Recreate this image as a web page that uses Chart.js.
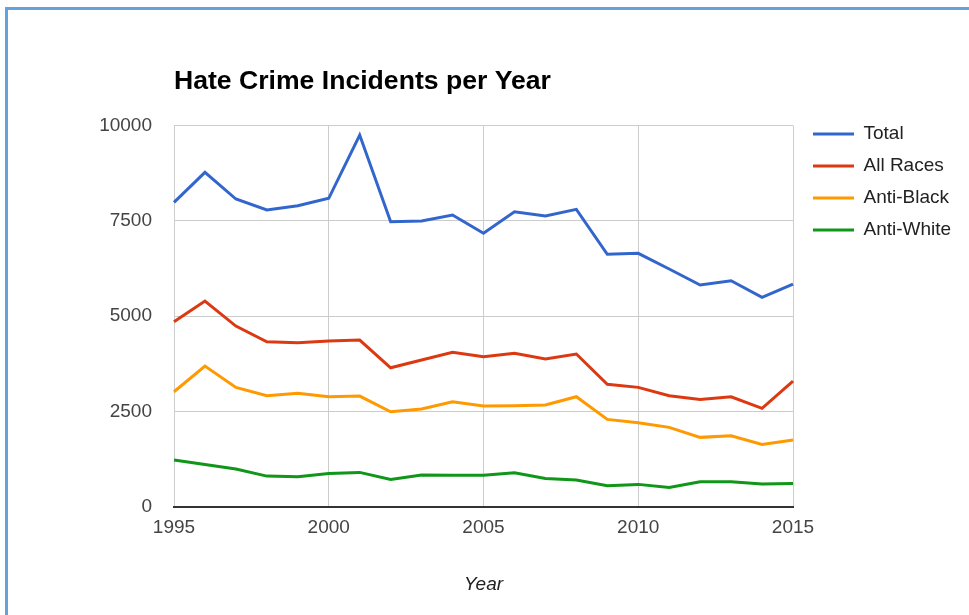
<!DOCTYPE html>
<html>
<head>
<meta charset="utf-8">
<title>Hate Crime Incidents per Year</title>
<script src="https://cdn.jsdelivr.net/npm/chart.js@4"></script>
<style>
  html, body { margin: 0; padding: 0; background: #fff; overflow: hidden; }
  #wrap { position: relative; width: 969px; height: 615px; }
  #frame { position: absolute; left: 5px; top: 7px; width: 1000px; height: 700px;
           border-left: 3px solid #66a1da; border-top: 3px solid #66a1da; }
  #crimeChart { position: absolute; left: 0; top: 0; }
</style>
</head>
<body>
<div id="wrap">
  <div id="frame"></div>
  <canvas id="crimeChart" width="969" height="615"></canvas>
</div>
<script>
const chartTitle = "Hate Crime Incidents per Year";
const years = [1995, 1996, 1997, 1998, 1999, 2000, 2001, 2002, 2003, 2004, 2005,
               2006, 2007, 2008, 2009, 2010, 2011, 2012, 2013, 2014, 2015];
const total = [7985, 8772, 8072, 7783, 7896, 8090, 9751, 7476, 7495, 7652, 7172,
               7739, 7626, 7801, 6621, 6647, 6236, 5816, 5929, 5493, 5842];
const allRaces = [4853, 5396, 4740, 4328, 4302, 4347, 4373, 3646, 3848, 4050, 3935,
                  4024, 3875, 4006, 3211, 3132, 2912, 2817, 2886, 2581, 3297];
const antiBlack = [3017, 3691, 3132, 2912, 2975, 2886, 2904, 2492, 2563, 2754, 2642,
                   2650, 2668, 2886, 2293, 2204, 2083, 1821, 1863, 1637, 1750];
const antiWhite = [1225, 1112, 989, 805, 787, 876, 902, 719, 832, 830, 830,
                   892, 745, 700, 551, 588, 509, 656, 656, 595, 614];
const yTicks = [0, 2500, 5000, 7500, 10000];

Chart.defaults.font.family = '"Liberation Sans", Arial, sans-serif';

const line = (label, values, color) => ({
  label: label,
  data: values,
  borderColor: color,
  backgroundColor: color,
  borderWidth: 3,
  pointRadius: 0,
  tension: 0,
  fill: false,
  xAxisID: "x",
  yAxisID: "y",
});

// title sits flush with the plot's left edge, like the original
const leftTitle = {
  id: "leftTitle",
  afterDraw(chart) {
    const ctx = chart.ctx;
    ctx.save();
    ctx.font = 'bold 26.6px "Liberation Sans", Arial, sans-serif';
    ctx.fillStyle = "#000";
    ctx.textBaseline = "alphabetic";
    ctx.fillText(chartTitle, chart.chartArea.left, 89);
    ctx.restore();
  },
};

const config = {
  type: "line",
  data: {
    labels: years,
    datasets: [
      line("Total", total, "#3366cc"),
      line("All Races", allRaces, "#dc3912"),
      line("Anti-Black", antiBlack, "#ff9900"),
      line("Anti-White", antiWhite, "#109618"),
    ],
  },
  options: {
    responsive: false,
    animation: false,
    layout: { padding: { top: 111.5, right: 9, bottom: 18.6, left: 0 } },
    plugins: {
      title: { display: false },
      tooltip: { enabled: false },
      legend: {
        position: "right",
        align: "start",
        fullSize: true,
        labels: {
          usePointStyle: true,
          pointStyle: "line",
          pointStyleWidth: 41,
          padding: 13,
          color: "#222",
          font: { size: 19 },
        },
      },
    },
    scales: {
      x: {
        grid: { color: "#cccccc", drawTicks: false },
        border: { color: "#333", width: 2 },
        ticks: {
          autoSkip: false,
          maxRotation: 0,
          padding: 10,
          color: "#444",
          font: { size: 19 },
          callback(v) {
            const yr = this.getLabelForValue(v);
            return yr % 5 === 0 ? String(yr) : null;
          },
        },
        title: {
          display: true,
          text: "Year",
          color: "#222",
          font: { size: 19, style: "italic" },
          padding: { top: 24, bottom: 0 },
        },
      },
      y: {
        min: 0,
        max: 10000,
        afterBuildTicks(s) { s.ticks = yTicks.map(v => ({ value: v })); },
        afterFit(s) { s.width = 174; },
        grid: {
          color: c => (c.tick && c.tick.value === 0 ? "rgba(0,0,0,0)" : "#cccccc"),
          drawTicks: false,
        },
        border: { display: false },
        ticks: { padding: 22, color: "#444", font: { size: 19 }, callback: v => String(v) },
      },
      // empty spacers so the legend lines up with the plot top
      topGap: {
        type: "linear", axis: "x", position: "top",
        grid: { display: false }, border: { display: false }, ticks: { display: false },
        afterFit(s) { s.height = 14; },
      },
      rightGap: {
        type: "linear", axis: "y", position: "right",
        grid: { display: false }, border: { display: false }, ticks: { display: false },
        afterFit(s) { s.width = 7; },
      },
    },
  },
  plugins: [leftTitle],
};

var crimes = document.getElementById("crimeChart").getContext("2d");
var chart = new Chart(crimes, config);
</script>
</body>
</html>
